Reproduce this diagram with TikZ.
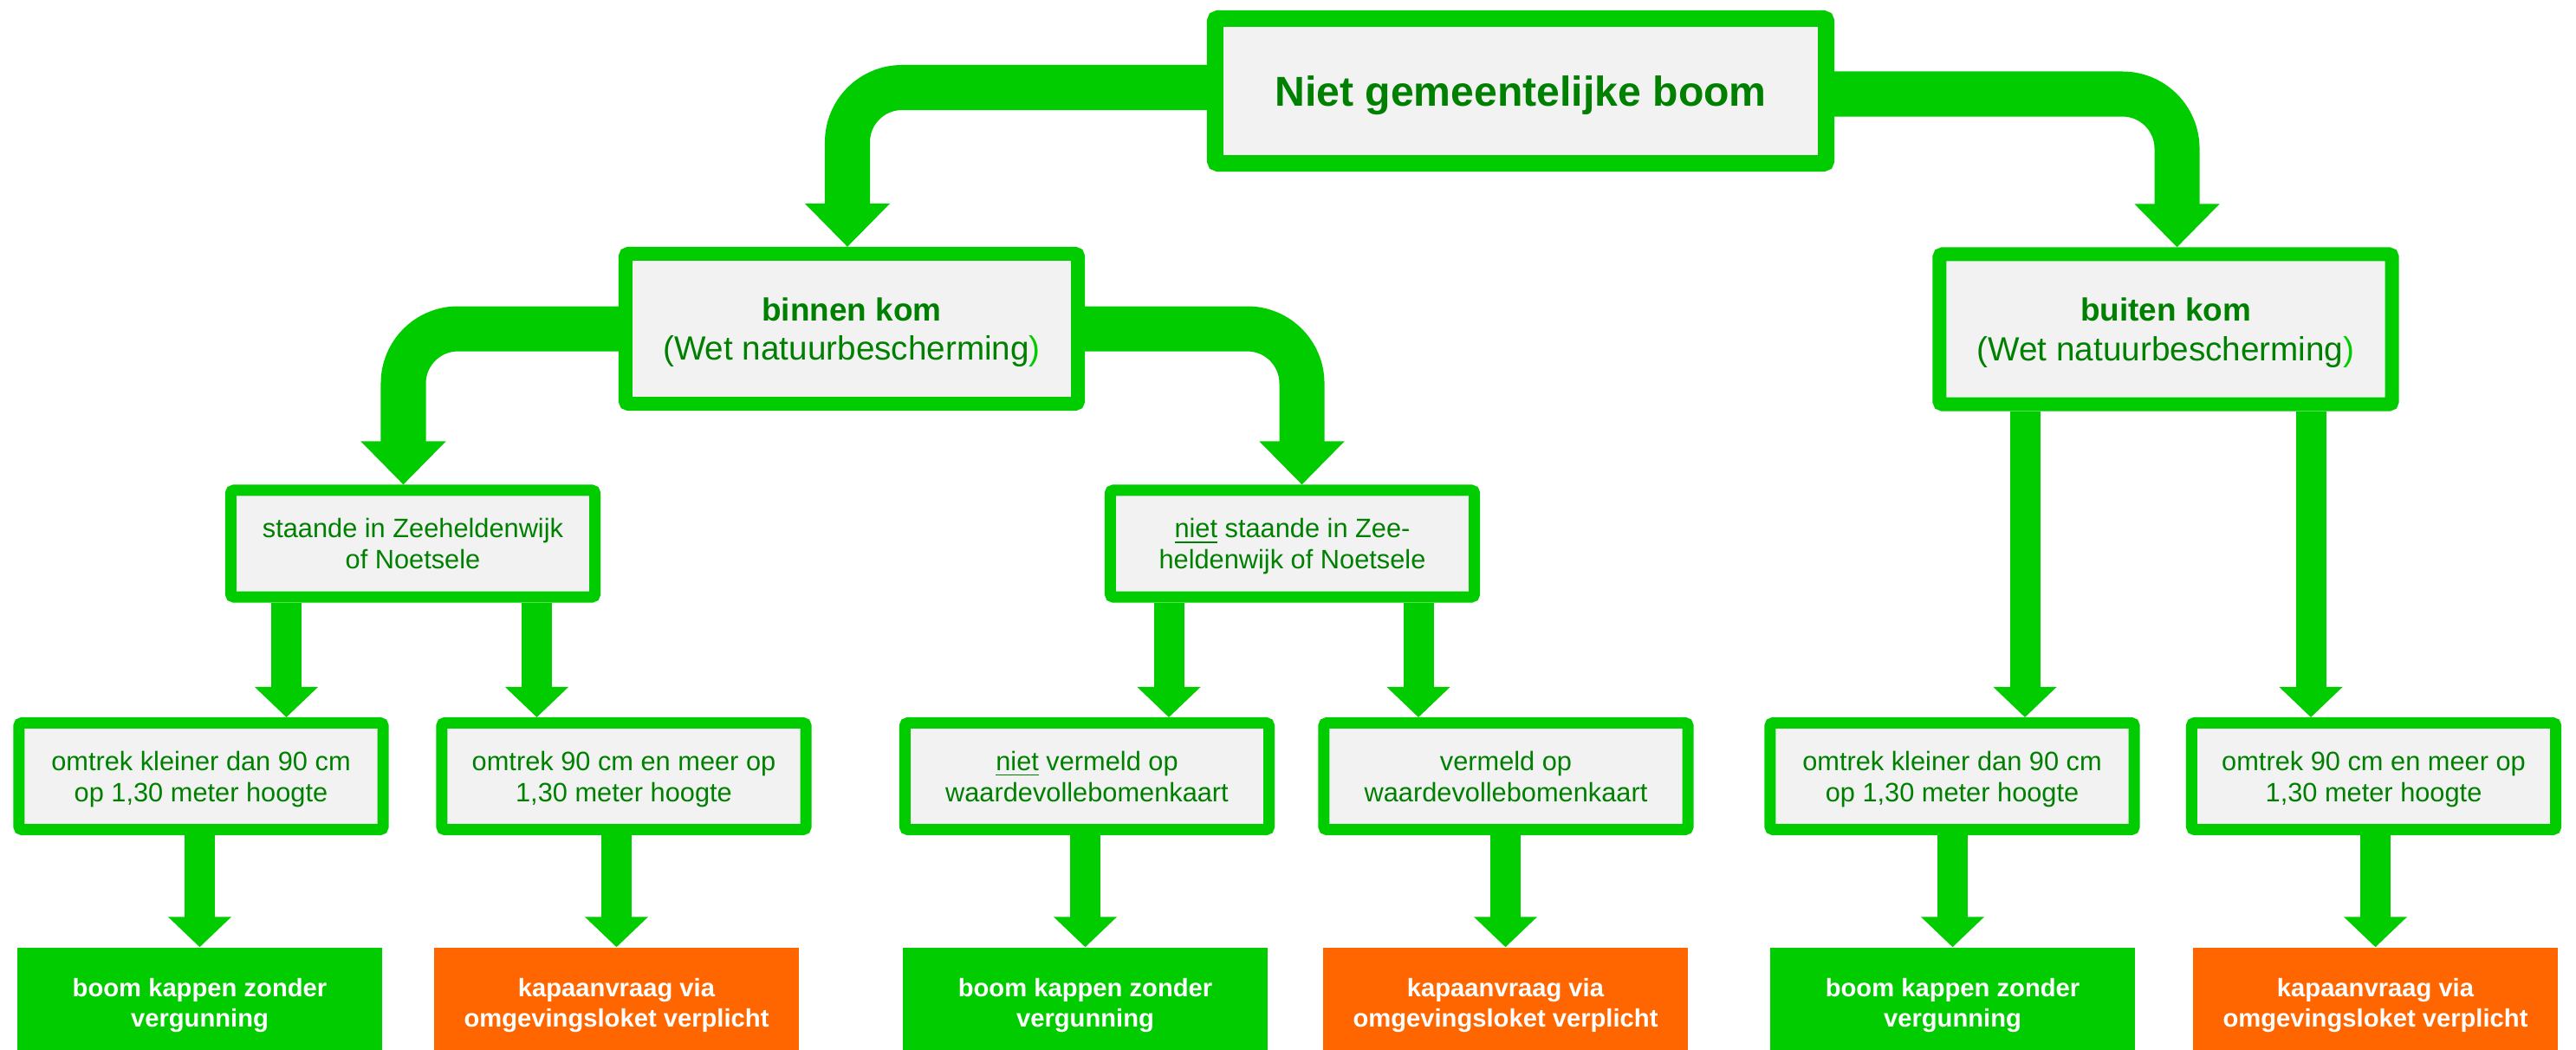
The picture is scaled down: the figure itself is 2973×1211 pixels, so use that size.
\documentclass[tikz,border=0pt]{standalone}
\usepackage{fontspec}
\setmainfont{Liberation Sans}
\usepackage{tikz}
\usetikzlibrary{calc,arrows.meta}
\definecolor{felgroen}{RGB}{0,204,0}
\definecolor{donkergroen}{RGB}{0,128,0}
\definecolor{vakgrijs}{RGB}{242,242,242}
\definecolor{oranje}{RGB}{255,102,0}

\begin{document}
\begin{tikzpicture}[x=0.01cm,y=-0.01cm,
    vak/.style={draw=felgroen,fill=vakgrijs,text=donkergroen,align=center,rounded corners=1pt,inner sep=0pt,text depth=0pt},
    hoofd/.style={vak,line width=0.19cm,minimum width=7.05cm,minimum height=1.67cm,font=\fontsize{13.7}{16}\selectfont\bfseries},
    kom/.style={vak,line width=0.16cm,minimum width=5.22cm,minimum height=1.73cm,font=\fontsize{11}{13}\selectfont},
    keuze/.style={vak,line width=0.13cm,minimum width=4.2cm,minimum height=1.23cm,font=\fontsize{8.75}{10.24}\selectfont},
    uitkomst/.style={text=white,align=center,text depth=0pt,minimum width=4.21cm,minimum height=1.27cm,font=\fontsize{8.3}{9.96}\selectfont\bfseries},
    vrij/.style={uitkomst,fill=felgroen},
    aanvraag/.style={uitkomst,fill=oranje},
    pijl/.style={felgroen,line width=0.35cm,-{Triangle[length=0.35cm,width=0.71cm]}},
    bocht/.style={felgroen,line width=0.52cm,rounded corners=0.63cm,-{Triangle[length=0.5cm,width=0.95cm]}}]
  \useasboundingbox (0,0) rectangle (2973,1211);

  % bovenste niveaus
  \node[hoofd](boom) at (1755,105) {Niet gemeentelijke boom};
  \node[kom](binnen) at (983,379.5) {{\bfseries\fontsize{10.5}{13}\selectfont binnen kom}\\(Wet natuurbescherming\textcolor{felgroen}{)}};
  \node[kom](buiten) at (2499.5,380) {{\bfseries\fontsize{10.5}{13}\selectfont buiten kom}\\(Wet natuurbescherming\textcolor{felgroen}{)}};
  \node[keuze](staande) at (476.5,627.5) {staande in Zeeheldenwijk\\of Noetsele};
  \node[keuze](nietstaande) at (1491.5,627.5) {\underline{niet} staande in Zee-\\heldenwijk of Noetsele};

  % omtrek en kaart
  \node[keuze](omtrekA) at (232,896) {omtrek kleiner dan 90 cm\\op 1,30 meter hoogte};
  \node[keuze](omtrekB) at (720,896) {omtrek 90 cm en meer op\\1,30 meter hoogte};
  \node[keuze](nietkaart) at (1254.5,896) {\underline{niet} vermeld op\\waardevollebomenkaart};
  \node[keuze](kaart) at (1738,896) {vermeld op\\waardevollebomenkaart};
  \node[keuze](omtrekC) at (2253,896) {omtrek kleiner dan 90 cm\\op 1,30 meter hoogte};
  \node[keuze](omtrekD) at (2739.5,896) {omtrek 90 cm en meer op\\1,30 meter hoogte};

  % uitkomsten
  \node[vrij](vrijA) at (230.5,1157.5) {boom kappen zonder\\vergunning};
  \node[aanvraag](aanvraagA) at (711.5,1157.5) {kapaanvraag via\\omgevingsloket verplicht};
  \node[vrij](vrijB) at (1252.5,1157.5) {boom kappen zonder\\vergunning};
  \node[aanvraag](aanvraagB) at (1737.5,1157.5) {kapaanvraag via\\omgevingsloket verplicht};
  \node[vrij](vrijC) at (2253.5,1157.5) {boom kappen zonder\\vergunning};
  \node[aanvraag](aanvraagC) at (2741.5,1157.5) {kapaanvraag via\\omgevingsloket verplicht};

  % gebogen pijlen
  \draw[bocht]([yshift=0.04cm]boom.west) -| ([xshift=-0.05cm]binnen.north);
  \draw[bocht]([yshift=-0.035cm]boom.east) -| ([xshift=0.13cm]buiten.north);
  \draw[bocht](binnen.west) -| ([xshift=-0.11cm]staande.north);
  \draw[bocht](binnen.east) -| ([xshift=0.11cm]nietstaande.north);

  % rechte pijlen
  \coordinate(sA) at ($(staande.south)+(-146,0)$);
  \coordinate(sB) at ($(staande.south)+(143,0)$);
  \coordinate(nA) at ($(nietstaande.south)+(-142.5,0)$);
  \coordinate(nB) at ($(nietstaande.south)+(145.5,0)$);
  \coordinate(bA) at ($(buiten.south)+(-162.5,0)$);
  \coordinate(bB) at ($(buiten.south)+(167.5,0)$);
  \draw[pijl](sA) -- (sA |- omtrekA.north);
  \draw[pijl](sB) -- (sB |- omtrekB.north);
  \draw[pijl](nA) -- (nA |- nietkaart.north);
  \draw[pijl](nB) -- (nB |- kaart.north);
  \draw[pijl](bA) -- (bA |- omtrekC.north);
  \draw[pijl](bB) -- (bB |- omtrekD.north);

  \draw[pijl](omtrekA.south -| vrijA.north) -- (vrijA.north);
  \draw[pijl](omtrekB.south -| aanvraagA.north) -- (aanvraagA.north);
  \draw[pijl](nietkaart.south -| vrijB.north) -- (vrijB.north);
  \draw[pijl](kaart.south -| aanvraagB.north) -- (aanvraagB.north);
  \draw[pijl](omtrekC.south -| vrijC.north) -- (vrijC.north);
  \draw[pijl](omtrekD.south -| aanvraagC.north) -- (aanvraagC.north);
\end{tikzpicture}
\end{document}
